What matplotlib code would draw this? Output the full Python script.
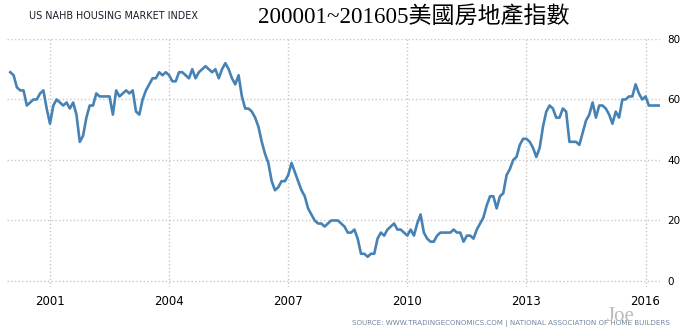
import numpy as np
import matplotlib.pyplot as plt

# indice NAHB mensuel, janvier 2000 -> mai 2016
y2000 = [69, 68, 64, 63, 63, 58, 59, 60, 60, 62, 63, 57]
y2001 = [52, 58, 60, 59, 58, 59, 57, 59, 55, 46, 48, 54]
y2002 = [58, 58, 62, 61, 61, 61, 61, 55, 63, 61, 62, 63]
y2003 = [62, 63, 56, 55, 60, 63, 65, 67, 67, 69, 68, 69]
y2004 = [68, 66, 66, 69, 69, 68, 67, 70, 67, 69, 70, 71]
y2005 = [70, 69, 70, 67, 70, 72, 70, 67, 65, 68, 61, 57]
y2006 = [57, 56, 54, 51, 46, 42, 39, 33, 30, 31, 33, 33]
y2007 = [35, 39, 36, 33, 30, 28, 24, 22, 20, 19, 19, 18]
y2008 = [19, 20, 20, 20, 19, 18, 16, 16, 17, 14, 9, 9]
y2009 = [8, 9, 9, 14, 16, 15, 17, 18, 19, 17, 17, 16]
y2010 = [15, 17, 15, 19, 22, 16, 14, 13, 13, 15, 16, 16]
y2011 = [16, 16, 17, 16, 16, 13, 15, 15, 14, 17, 19, 21]
y2012 = [25, 28, 28, 24, 28, 29, 35, 37, 40, 41, 45, 47]
y2013 = [47, 46, 44, 41, 44, 51, 56, 58, 57, 54, 54, 57]
y2014 = [56, 46, 46, 46, 45, 49, 53, 55, 59, 54, 58, 58]
y2015 = [57, 55, 52, 56, 54, 60, 60, 61, 61, 65, 62, 60]
y2016 = [61, 58, 58, 58, 58]

values = (y2000 + y2001 + y2002 + y2003 + y2004 + y2005 + y2006 + y2007 + y2008
          + y2009 + y2010 + y2011 + y2012 + y2013 + y2014 + y2015 + y2016)
years = 2000 + np.arange(len(values)) / 12

xticks = [2001, 2004, 2007, 2010, 2013, 2016]
yticks = [0, 20, 40, 60, 80]

fig = plt.figure(figsize=(6.86, 3.33), dpi=100)
ax = fig.add_axes([0.0102, 0.138, 0.952, 0.745])

ax.plot(years, values, color='#4682b4', lw=1.9)

ax.set_xlim(1999.917, 2016.366)
ax.set_ylim(-2, 80)
ax.set_xticks(xticks)
ax.set_yticks(yticks)
ax.yaxis.tick_right()
ax.tick_params(length=0, colors='black')
ax.tick_params(axis='x', labelsize=8.5, pad=6)
ax.tick_params(axis='y', labelsize=7.5, pad=5)
for s in ax.spines.values():
    s.set_visible(False)
ax.grid(True, color='#c8c8c8', linestyle=':', lw=1)

# titres
fig.text(0.042, 0.953, 'US NAHB HOUSING MARKET INDEX', fontsize=6.9,
         color='#1a1a2a', va='center', ha='left')
fig.text(0.376, 0.95, '200001~201605美國房地產指數', fontsize=16.6,
         family=['Liberation Serif', 'Noto Sans CJK TC'], va='center', ha='left')

# source
fig.text(0.977, 0.028, 'SOURCE: WWW.TRADINGECONOMICS.COM | NATIONAL ASSOCIATION OF HOME BUILDERS',
         fontsize=5.1, color='#6f86a0', ha='right', va='center')
fig.text(0.884, 0.05, 'Joe', fontsize=15, color='#bbbbbb',
         family='Liberation Serif', ha='left', va='center')

fig.savefig('out.png', dpi=100)
